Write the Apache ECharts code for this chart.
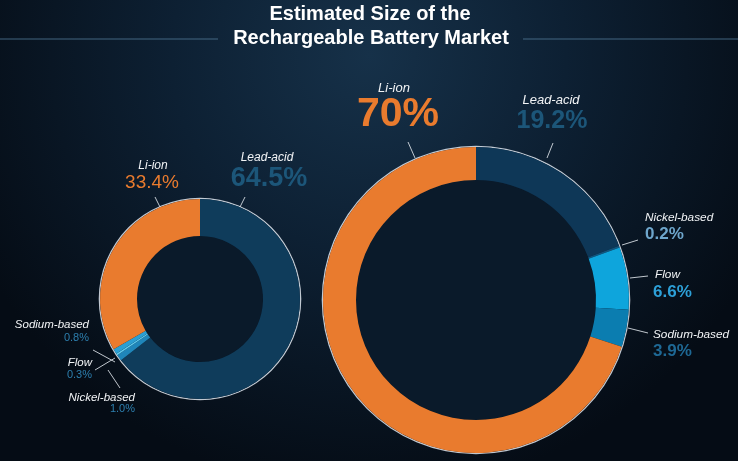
<!DOCTYPE html>
<html>
<head>
<meta charset="utf-8">
<script src="https://cdn.jsdelivr.net/npm/echarts@6/dist/echarts.min.js"></script>
<style>
html,body{margin:0;padding:0;background:#07111c;}
#chart{width:738px;height:461px;}
</style>
</head>
<body>
<div id="chart"></div>
<script>
// ---- data ----
const titleLines = ['Estimated Size of the', 'Rechargeable Battery Market'];
const categories = ['Lead-acid', 'Nickel-based', 'Flow', 'Sodium-based', 'Li-ion'];
const share2014 = [64.5, 1.0, 0.3, 0.8, 33.4];
const share2025 = [19.2, 0.2, 6.6, 3.9, 70];
const years = ['2014', '2025E'];
const totals = ['$49B', '$112B'];
const unit = 'USD';

// ---- styles ----
const FONT = '"Liberation Sans", Arial, Helvetica, sans-serif';
const colors2014 = ['#0f3c5b', '#1f86ba', '#5ccaf0', '#2a9fd3', '#e97b2e'];
const colors2025 = ['#0e3757', '#12557e', '#0ea5dc', '#0b7db0', '#e97b2e'];
const fmt = v => (Number.isInteger(v) && v >= 10) ? v + '%' : v.toFixed(1) + '%';

function pieData(vals, cols) {
  return categories.map((c, i) => ({ name: c, value: vals[i], itemStyle: { color: cols[i] } }));
}

const L = { c: [200, 299], r: [63, 100] };
const R = { c: [476, 300], r: [120, 153] };

function baseSeries(geom, vals, cols) {
  return [
    { type: 'pie', silent: true, center: geom.c, radius: [0, geom.r[0]], label: { show: false }, labelLine: { show: false },
      data: [{ value: 1, itemStyle: { color: '#0a1a2a' } }] },
    { type: 'pie', silent: true, center: geom.c, radius: [geom.r[1], geom.r[1] + 1.3], label: { show: false }, labelLine: { show: false },
      data: [{ value: 1, itemStyle: { color: 'rgba(225,232,240,0.85)' } }] },
    { type: 'pie', silent: true, center: geom.c, radius: geom.r, startAngle: 90, clockwise: true,
      avoidLabelOverlap: false, label: { show: false }, labelLine: { show: false },
      itemStyle: { borderWidth: 0 }, data: pieData(vals, cols) }
  ];
}

function txt(text, x, y, fill, size, weight, style, align) {
  return { type: 'text', silent: true, style: { text: text, x: x, y: y, fill: fill, fontSize: size,
    fontWeight: weight || 'normal', fontStyle: style || 'normal', fontFamily: FONT,
    textAlign: align || 'center', textVerticalAlign: 'middle' } };
}
function ln(x1, y1, x2, y2) {
  return { type: 'line', silent: true, shape: { x1: x1, y1: y1, x2: x2, y2: y2 },
    style: { stroke: 'rgba(225,230,236,0.85)', lineWidth: 1 } };
}

const WHITE = '#f2f4f6', ORANGE = '#e97b2e', DARKBLUE = '#1c5679';

const graphics = [
  txt(titleLines[0], 370, 14, '#ffffff', 20, 'bold'),
  txt(titleLines[1], 371, 38, '#ffffff', 20, 'bold'),
  { type: 'line', silent: true, shape: { x1: 0, y1: 39, x2: 218, y2: 39 }, style: { stroke: 'rgba(80,120,150,0.8)', lineWidth: 1 } },
  { type: 'line', silent: true, shape: { x1: 523, y1: 39, x2: 738, y2: 39 }, style: { stroke: 'rgba(80,120,150,0.8)', lineWidth: 1 } },
  // 2014 donut labels
  txt(categories[4], 153, 166, WHITE, 12, 'normal', 'italic'),
  txt(fmt(share2014[4]), 152, 183, ORANGE, 19, 'normal'),
  ln(155, 197, 160, 207),
  txt(categories[0], 267, 158, WHITE, 12, 'normal', 'italic'),
  txt(fmt(share2014[0]), 269, 179, DARKBLUE, 27, 'bold'),
  ln(245, 197, 240, 207),
  txt(categories[3], 89, 325, WHITE, 11.5, 'normal', 'italic', 'right'),
  txt(fmt(share2014[3]), 89, 338, '#2d7fae', 11, 'normal', 'normal', 'right'),
  ln(93, 350, 115, 362),
  txt(categories[2], 92, 363, WHITE, 11.5, 'normal', 'italic', 'right'),
  txt(fmt(share2014[2]), 92, 375, '#2d7fae', 11, 'normal', 'normal', 'right'),
  ln(95, 370, 115, 358),
  txt(categories[1], 135, 398, WHITE, 11.5, 'normal', 'italic', 'right'),
  txt(fmt(share2014[1]), 135, 409, '#2d7fae', 11, 'normal', 'normal', 'right'),
  ln(120, 388, 108, 370),
  // 2014 center
  txt(years[0], 200, 275, ORANGE, 20, 'bold'),
  txt(totals[0], 200, 299, '#ffffff', 29, 'bold'),
  txt(unit, 200, 324, WHITE, 12, 'normal'),
  // 2025 donut labels
  txt(categories[4], 394, 88, WHITE, 13, 'normal', 'italic'),
  txt(fmt(share2025[4]), 398, 115, ORANGE, 41, 'bold'),
  ln(408, 142, 415, 158),
  txt(categories[0], 551, 100, WHITE, 13, 'normal', 'italic'),
  txt(fmt(share2025[0]), 552, 121, DARKBLUE, 25, 'bold'),
  ln(553, 143, 547, 158),
  txt(categories[1], 645, 218, WHITE, 11.8, 'normal', 'italic', 'left'),
  txt(fmt(share2025[1]), 645, 234, '#6ea6cc', 17, 'bold', 'normal', 'left'),
  ln(622, 245, 638, 240),
  txt(categories[2], 655, 275, WHITE, 11.8, 'normal', 'italic', 'left'),
  txt(fmt(share2025[2]), 653, 292, '#2da0d8', 17, 'bold', 'normal', 'left'),
  ln(630, 278, 648, 276),
  txt(categories[3], 653, 335, WHITE, 11.8, 'normal', 'italic', 'left'),
  txt(fmt(share2025[3]), 653, 351, '#1e6894', 17, 'bold', 'normal', 'left'),
  ln(628, 328, 648, 333),
  // 2025 center
  txt(years[1], 476, 264, ORANGE, 22, 'bold'),
  txt(totals[1], 476, 298, '#ffffff', 41, 'bold'),
  txt(unit, 476, 333, WHITE, 19, 'normal')
];

const chart = echarts.init(document.getElementById('chart'), null, { renderer: 'canvas' });
chart.setOption({
  animation: false,
  backgroundColor: {
    type: 'radial', x: 0.5, y: 0.12, r: 0.95,
    colorStops: [
      { offset: 0, color: '#163149' },
      { offset: 0.45, color: '#0d2033' },
      { offset: 1, color: '#050c15' }
    ]
  },
  series: [].concat(baseSeries(L, share2014, colors2014), baseSeries(R, share2025, colors2025)),
  graphic: graphics
});
</script>
</body>
</html>
